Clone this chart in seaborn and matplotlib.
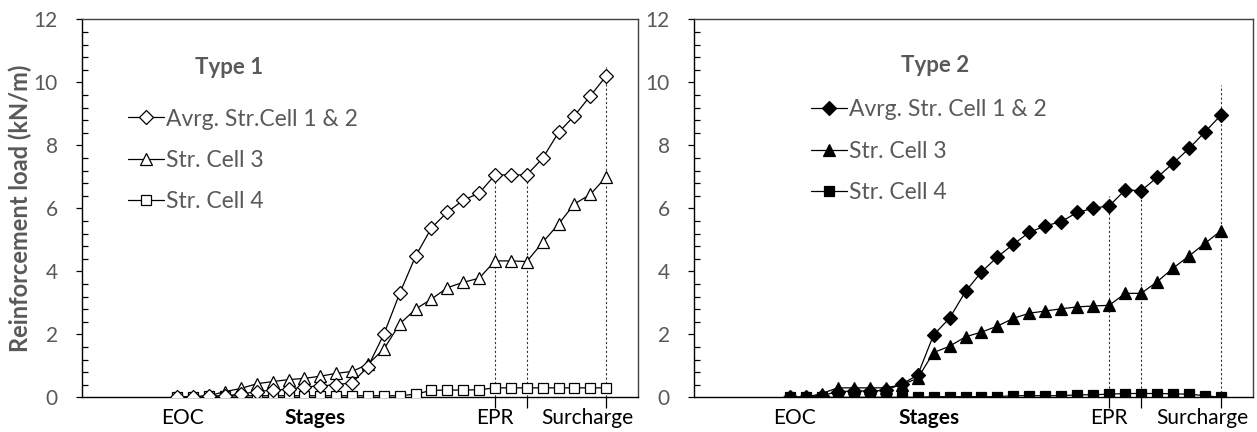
import numpy as np
import pandas as pd
import matplotlib
matplotlib.use("Agg")
import matplotlib.pyplot as plt
import seaborn as sns
from matplotlib.lines import Line2D
from matplotlib.ticker import MultipleLocator
import matplotlib.transforms as mtransforms

# ---------------- data ----------------
stages = list(range(28))
stage_labels = ["EOC", "Stages", "EPR", "Surcharge"]
stage_label_pos = [0.3, 8.7, 20.0, 25.8]
series_names_1 = ["Avrg. Str.Cell 1 & 2", "Str. Cell 3", "Str. Cell 4"]
series_names_2 = ["Avrg. Str. Cell 1 & 2", "Str. Cell 3", "Str. Cell 4"]

type1_avg = [0.0, 0.02, 0.03, 0.05, 0.10, 0.18, 0.23, 0.25, 0.33, 0.36, 0.40, 0.46, 0.97,
             2.00, 3.30, 4.48, 5.38, 5.88, 6.26, 6.48, 7.06, 7.06, 7.06, 7.59, 8.41, 8.94, 9.57, 10.20]
type1_cell3 = [0.0, 0.02, 0.05, 0.18, 0.28, 0.43, 0.50, 0.56, 0.60, 0.67, 0.76, 0.82, 1.05,
               1.53, 2.33, 2.80, 3.12, 3.48, 3.65, 3.78, 4.33, 4.33, 4.31, 4.92, 5.50, 6.14, 6.44, 7.00]
type1_cell4 = [0.0, 0.02, 0.03, 0.04, 0.05, 0.05, 0.05, 0.05, 0.05, 0.05, 0.05, 0.05, 0.05,
               0.05, 0.05, 0.10, 0.22, 0.23, 0.23, 0.24, 0.30, 0.30, 0.30, 0.30, 0.30, 0.30, 0.30, 0.30]

type2_avg = [0.0, 0.02, 0.05, 0.18, 0.20, 0.20, 0.22, 0.42, 0.70, 1.98, 2.51, 3.36, 3.98,
             4.46, 4.86, 5.24, 5.44, 5.58, 5.87, 6.00, 6.08, 6.58, 6.56, 6.98, 7.43, 7.90, 8.43, 8.96]
type2_cell3 = [0.0, 0.0, 0.12, 0.30, 0.30, 0.30, 0.30, 0.40, 0.60, 1.42, 1.62, 1.92, 2.07,
               2.26, 2.51, 2.67, 2.74, 2.81, 2.87, 2.90, 2.92, 3.30, 3.30, 3.67, 4.10, 4.49, 4.89, 5.29]
type2_cell4 = [0.0, 0.0, 0.0, 0.0, 0.0, 0.0, 0.0, 0.0, 0.0, 0.02, 0.02, 0.02, 0.02,
               0.02, 0.05, 0.05, 0.05, 0.05, 0.08, 0.08, 0.10, 0.12, 0.12, 0.12, 0.11, 0.10, 0.05, 0.0]

guide_stages = [20, 22, 27]
type1_guide_top = [7.06, 7.06, 10.5]
type2_guide_top = [6.4, 6.58, 9.9]

# ---------------- style ----------------
sns.set_theme(style="white")
plt.rcParams["font.family"] = ["Lato", "DejaVu Sans"]
GRAY = "#595959"

W, H = 1257, 432
fig = plt.figure(figsize=(W / 100, H / 100), dpi=100)
ax1 = fig.add_axes([82 / W, 1 - 397.3 / H, (638 - 82) / W, (397.3 - 19.3) / H])
ax2 = fig.add_axes([694 / W, 1 - 397.3 / H, (1253 - 694) / W, (397.3 - 19.3) / H])

markers = ["D", "^", "s"]
msizes = [7.5, 8.5, 7.5]


def draw(ax, vals, names, filled, guide_top, title, title_xy, leg_anchor):
    df = pd.DataFrame({"stage": stages * 3,
                       "load": sum(vals, []),
                       "series": sum([[n] * len(stages) for n in names], [])})
    handles = []
    for i, n in enumerate(names):
        sub = df[df["series"] == n]
        fc = "black" if filled else "white"
        sns.lineplot(data=sub, x="stage", y="load", ax=ax, color="black", linewidth=0.9,
                     marker=markers[i], markersize=msizes[i], markerfacecolor=fc,
                     markeredgecolor="black", markeredgewidth=0.9, legend=False, zorder=3 + (2 - i))
        handles.append(Line2D([0], [0], color="black", lw=0.9, marker=markers[i],
                              markersize=msizes[i] * 0.95, markerfacecolor=fc,
                              markeredgecolor="black", markeredgewidth=0.9))
    ax.vlines(guide_stages, 0, guide_top, colors="#333333", linestyles=(0, (2, 2)),
              linewidth=0.8, zorder=2)
    ax.set_xlim(-6, 29)
    ax.set_ylim(0, 12)
    ax.yaxis.set_major_locator(MultipleLocator(2))
    ax.yaxis.set_minor_locator(MultipleLocator(0.4))
    ax.tick_params(axis="y", which="major", direction="out", length=4.5, width=0.9,
                   colors="black", labelcolor=GRAY, labelsize=15, left=True, pad=13)
    ax.tick_params(axis="y", which="minor", direction="in", length=4.5, width=0.9,
                   colors="black", left=True)
    ax.set_xticks(guide_stages)
    ax.set_xticklabels([])
    ax.tick_params(axis="x", which="major", direction="out", length=8, width=0.9,
                   colors="black", bottom=True)
    ax.set_xlabel("")
    ax.set_ylabel("")
    for s in ["left", "bottom"]:
        ax.spines[s].set_color("black")
        ax.spines[s].set_linewidth(1.0)
    for s in ["top", "right"]:
        ax.spines[s].set_color("#404040")
        ax.spines[s].set_linewidth(1.0)
    trans = mtransforms.blended_transform_factory(ax.transData, ax.transAxes)
    for lab, xp in zip(stage_labels, stage_label_pos):
        ax.text(xp, -0.056, lab, transform=trans, ha="center", va="center", fontsize=15,
                color="black", fontweight="bold" if lab == "Stages" else "normal")
    ax.text(title_xy[0], title_xy[1], title, transform=fig.transFigure, ha="center",
            va="center", fontsize=16, fontweight="bold", color=GRAY)
    leg = ax.legend(handles, names, loc="upper left", bbox_to_anchor=leg_anchor,
                    bbox_transform=fig.transFigure, frameon=False, fontsize=16.5,
                    labelcolor=GRAY, handlelength=1.55, handletextpad=0.1,
                    labelspacing=0.88, borderaxespad=0, borderpad=0)
    return leg


draw(ax1, [type1_avg, type1_cell3, type1_cell4], series_names_1, False, type1_guide_top,
     "Type 1", (229 / W, 1 - 67 / H), (128 / W, 1 - 108.5 / H))
draw(ax2, [type2_avg, type2_cell3, type2_cell4], series_names_2, True, type2_guide_top,
     "Type 2", (935 / W, 1 - 65 / H), (811 / W, 1 - 99.5 / H))

fig.text(20 / W, 1 - 208 / H, "Reinforcement load (kN/m)", rotation=90, ha="center",
         va="center", fontsize=17, fontweight="bold", color=GRAY)

fig.savefig("out.png", dpi=100, facecolor="white")
